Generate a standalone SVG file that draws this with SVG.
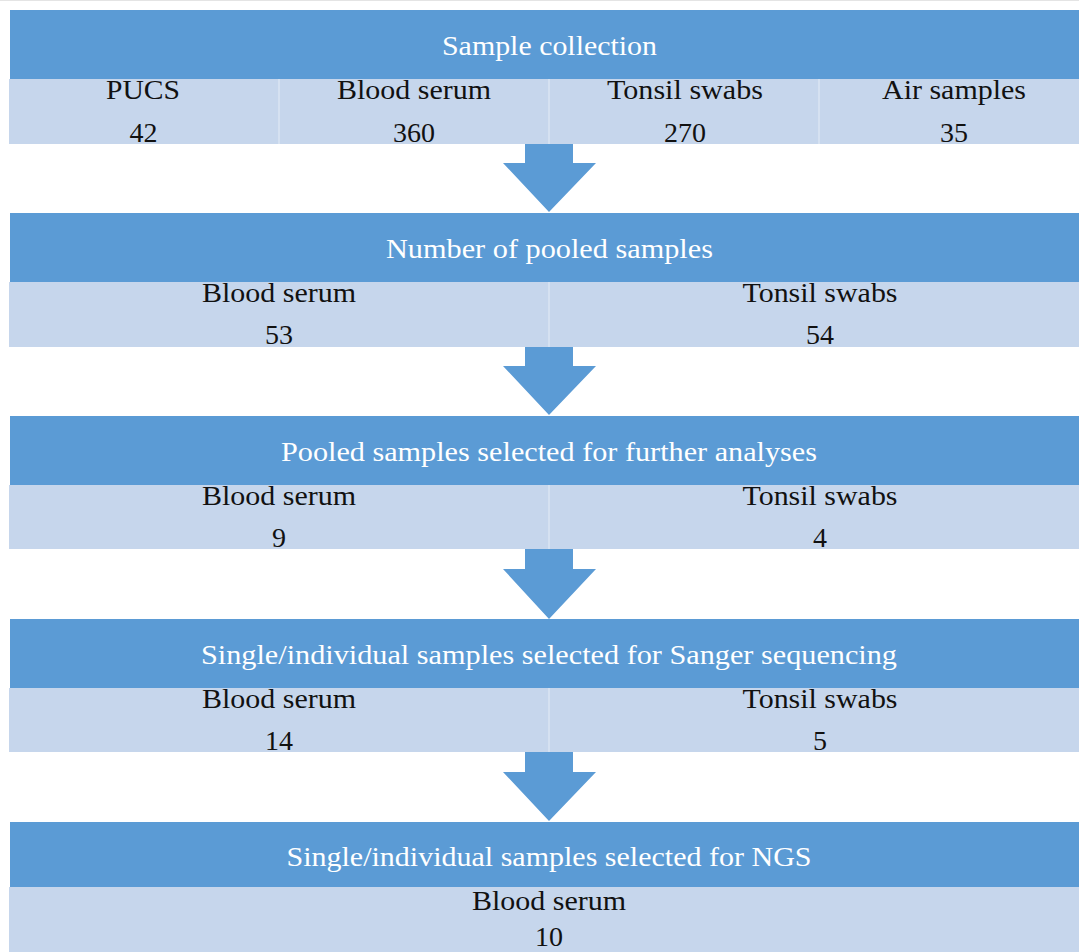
<svg xmlns="http://www.w3.org/2000/svg" width="1079" height="952" viewBox="0 0 1079 952">
<style>
.hd{fill:#5B9BD5}
.lt{fill:#C6D6EC}
.dv{stroke:#D5E1F1;stroke-width:2}
.ar{fill:#5B9BD5}
.ht{font-family:"Liberation Serif","Times New Roman",serif;font-size:28px;fill:#FFFFFF;text-anchor:middle}
.lb{font-family:"Liberation Serif","Times New Roman",serif;font-size:27px;fill:#111111;text-anchor:middle}
.nm{font-family:"Liberation Serif","Times New Roman",serif;font-size:28px;fill:#111111;text-anchor:middle}
</style>
<rect x="0" y="0" width="1079" height="952" fill="#FFFFFF"/>
<rect x="0" y="0" width="1079" height="1" fill="#E4E4E4"/>

<g id="connectors">
<polygon class="ar" points="525,144 573,144 573,163 596,163 549,212 503,163 525,163"/>
<polygon class="ar" points="525,347 573,347 573,366 596,366 549,415 503,366 525,366"/>
<polygon class="ar" points="525,549 573,549 573,569 596,569 549,619 503,569 525,569"/>
<polygon class="ar" points="525,752 573,752 573,772 596,772 549,821 503,772 525,772"/>
</g>

<g id="node-sample-collection">
<rect class="hd" x="10" y="10" width="1080" height="69"/>
<rect class="lt" x="9" y="79" width="1081" height="65"/>
<line class="dv" x1="279" y1="79" x2="279" y2="144"/>
<line class="dv" x1="549" y1="79" x2="549" y2="144"/>
<line class="dv" x1="819" y1="79" x2="819" y2="144"/>
<text class="ht" x="549.5" y="55" textLength="215" lengthAdjust="spacingAndGlyphs">Sample collection</text>
<text class="lb" x="143" y="99" textLength="74" lengthAdjust="spacingAndGlyphs">PUCS</text>
<text class="nm" x="143.5" y="142">42</text>
<text class="lb" x="414" y="99" textLength="154" lengthAdjust="spacingAndGlyphs">Blood serum</text>
<text class="nm" x="414" y="142">360</text>
<text class="lb" x="685" y="99" textLength="156" lengthAdjust="spacingAndGlyphs">Tonsil swabs</text>
<text class="nm" x="685" y="142">270</text>
<text class="lb" x="954" y="99" textLength="144" lengthAdjust="spacingAndGlyphs">Air samples</text>
<text class="nm" x="954" y="142">35</text>
</g>

<g id="node-pooled">
<rect class="hd" x="10" y="213" width="1080" height="69"/>
<rect class="lt" x="9" y="282" width="1081" height="65"/>
<line class="dv" x1="549" y1="282" x2="549" y2="347"/>
<text class="ht" x="549.5" y="258" textLength="327" lengthAdjust="spacingAndGlyphs">Number of pooled samples</text>
<text class="lb" x="279" y="302" textLength="154" lengthAdjust="spacingAndGlyphs">Blood serum</text>
<text class="nm" x="279" y="344">53</text>
<text class="lb" x="820" y="302" textLength="155" lengthAdjust="spacingAndGlyphs">Tonsil swabs</text>
<text class="nm" x="820" y="344">54</text>
</g>

<g id="node-selected-pooled">
<rect class="hd" x="10" y="416" width="1080" height="69"/>
<rect class="lt" x="9" y="485" width="1081" height="64"/>
<line class="dv" x1="549" y1="485" x2="549" y2="549"/>
<text class="ht" x="549" y="461" textLength="536" lengthAdjust="spacingAndGlyphs">Pooled samples selected for further analyses</text>
<text class="lb" x="279" y="505" textLength="154" lengthAdjust="spacingAndGlyphs">Blood serum</text>
<text class="nm" x="279" y="547">9</text>
<text class="lb" x="820" y="505" textLength="155" lengthAdjust="spacingAndGlyphs">Tonsil swabs</text>
<text class="nm" x="820" y="547">4</text>
</g>

<g id="node-sanger">
<rect class="hd" x="10" y="619" width="1080" height="69"/>
<rect class="lt" x="9" y="688" width="1081" height="64"/>
<line class="dv" x1="549" y1="688" x2="549" y2="752"/>
<text class="ht" x="549" y="664" textLength="696" lengthAdjust="spacingAndGlyphs">Single/individual samples selected for Sanger sequencing</text>
<text class="lb" x="279" y="708" textLength="154" lengthAdjust="spacingAndGlyphs">Blood serum</text>
<text class="nm" x="279" y="750">14</text>
<text class="lb" x="820" y="708" textLength="155" lengthAdjust="spacingAndGlyphs">Tonsil swabs</text>
<text class="nm" x="820" y="750">5</text>
</g>

<g id="node-ngs">
<rect class="hd" x="10" y="822" width="1080" height="65"/>
<rect class="lt" x="9" y="887" width="1081" height="70"/>
<text class="ht" x="549" y="866" textLength="525" lengthAdjust="spacingAndGlyphs">Single/individual samples selected for NGS</text>
<text class="lb" x="549" y="910" textLength="154" lengthAdjust="spacingAndGlyphs">Blood serum</text>
<text class="nm" x="549" y="946">10</text>
</g>
</svg>
